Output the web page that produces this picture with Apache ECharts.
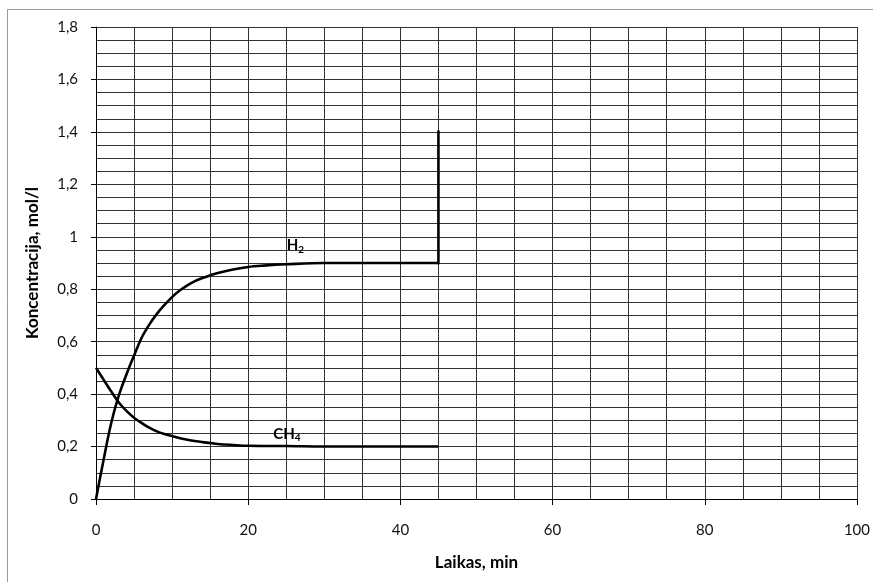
<!DOCTYPE html>
<html>
<head>
<meta charset="utf-8">
<script src="https://cdn.jsdelivr.net/npm/echarts@6/dist/echarts.min.js"></script>
<style>
  html, body { margin: 0; padding: 0; background: #fff; }
  #chart { width: 873px; height: 582px; }
</style>
</head>
<body>
<div id="chart"></div>
<script>
// laiks (min) un koncentracija (mol/l)
const timeH2 = [0, 1, 2, 3, 4, 5, 6, 7, 8, 9, 10, 11, 12, 13, 14, 15, 16, 18, 20, 22, 25, 30, 35, 40, 45];
const h2 = [0, 0.15, 0.29, 0.395, 0.475, 0.547, 0.615, 0.665, 0.706, 0.74, 0.77, 0.795, 0.815, 0.831, 0.843, 0.853, 0.862, 0.875, 0.885, 0.89, 0.895, 0.9, 0.9, 0.9, 0.9];
const h2JumpX = [45, 45];
const h2JumpY = [0.9, 1.4];

const timeCh4 = [0, 1, 2, 3, 4, 5, 6, 7, 8, 9, 10, 12, 14, 16, 18, 20, 25, 30, 35, 40, 45];
const ch4 = [0.5, 0.455, 0.41, 0.368, 0.336, 0.31, 0.29, 0.272, 0.258, 0.248, 0.24, 0.226, 0.217, 0.21, 0.206, 0.203, 0.202, 0.2, 0.2, 0.2, 0.2];

// uzraksti pie liknēm
const labelMain = ['H', 'CH'];
const labelSub = ['2', '4'];
const labelX = [26.2, 25.1];
const labelY = [0.967, 0.249];

const FONT = 'Lato, "Open Sans", sans-serif';
const zip = (xs, ys) => xs.map((x, i) => [x, ys[i]]);

const chart = echarts.init(document.getElementById('chart'));

const gridLine = { show: true, lineStyle: { color: '#333', width: 1 } };

chart.setOption({
    animation: false,
    backgroundColor: '#fff',
    textStyle: { fontFamily: FONT },
    grid: { left: 96, right: 15, top: 27, bottom: 83 },
    xAxis: {
        type: 'value',
        min: 0, max: 100, interval: 20,
        name: 'Laikas, min',
        nameLocation: 'middle',
        nameGap: 55,
        nameTextStyle: { fontFamily: FONT, fontWeight: 'bold', fontSize: 17, color: '#000' },
        axisLine: { show: true, lineStyle: { color: '#000', width: 1 } },
        axisTick: { show: true, length: 6, lineStyle: { color: '#000' } },
        axisLabel: { fontFamily: FONT, fontSize: 15, color: '#111', margin: 24 },
        splitLine: gridLine,
        minorTick: { show: false, splitNumber: 4 },
        minorSplitLine: gridLine
    },
    yAxis: {
        type: 'value',
        min: 0, max: 1.8, interval: 0.2,
        name: 'Koncentracija, mol/l',
        nameLocation: 'middle',
        nameGap: 55,
        nameRotate: 90,
        nameTextStyle: { fontFamily: FONT, fontWeight: 'bold', fontSize: 17, color: '#000' },
        axisLine: { show: true, lineStyle: { color: '#000', width: 1 } },
        axisTick: { show: true, length: 5, lineStyle: { color: '#000' } },
        axisLabel: {
            fontFamily: FONT, fontSize: 15, color: '#111', margin: 18,
            formatter: v => String(Math.round(v * 10) / 10).replace('.', ',')
        },
        splitLine: gridLine,
        minorTick: { show: false, splitNumber: 4 },
        minorSplitLine: gridLine
    },
    series: [
        {
            name: 'H2', type: 'line', data: zip(timeH2, h2),
            smooth: 0.35, symbol: 'none',
            lineStyle: { color: '#000', width: 2.6 }, z: 5
        },
        {
            name: 'H2 jump', type: 'line', data: zip(h2JumpX, h2JumpY),
            symbol: 'none',
            lineStyle: { color: '#000', width: 2.6, cap: 'square' }, z: 5
        },
        {
            name: 'CH4', type: 'line', data: zip(timeCh4, ch4),
            smooth: 0.35, symbol: 'none',
            lineStyle: { color: '#000', width: 2.6 }, z: 5
        }
    ]
});

// rāmis un līkņu nosaukumi ar apakšindeksiem
const graphics = [{
    id: 'frame', type: 'rect', silent: true,
    shape: { x: 7.5, y: 9.5, width: 900, height: 600 },
    style: { fill: 'none', stroke: '#9a9a9a', lineWidth: 1 }
}];
labelMain.forEach((m, i) => {
    const [px, py] = chart.convertToPixel({ gridIndex: 0 }, [labelX[i], labelY[i]]);
    graphics.push({
        id: 'lbl' + i, type: 'text', x: px, y: py, z: 10, silent: true,
        style: {
            text: '{m|' + m + '}{s|' + labelSub[i] + '}',
            align: 'center', verticalAlign: 'middle',
            rich: {
                m: { fontFamily: FONT, fontWeight: 'bold', fontSize: 15, fill: '#000' },
                s: { fontFamily: FONT, fontWeight: 'bold', fontSize: 10, fill: '#000', padding: [8, 0, 0, 0] }
            }
        }
    });
});
chart.setOption({ graphic: graphics });
</script>
</body>
</html>
